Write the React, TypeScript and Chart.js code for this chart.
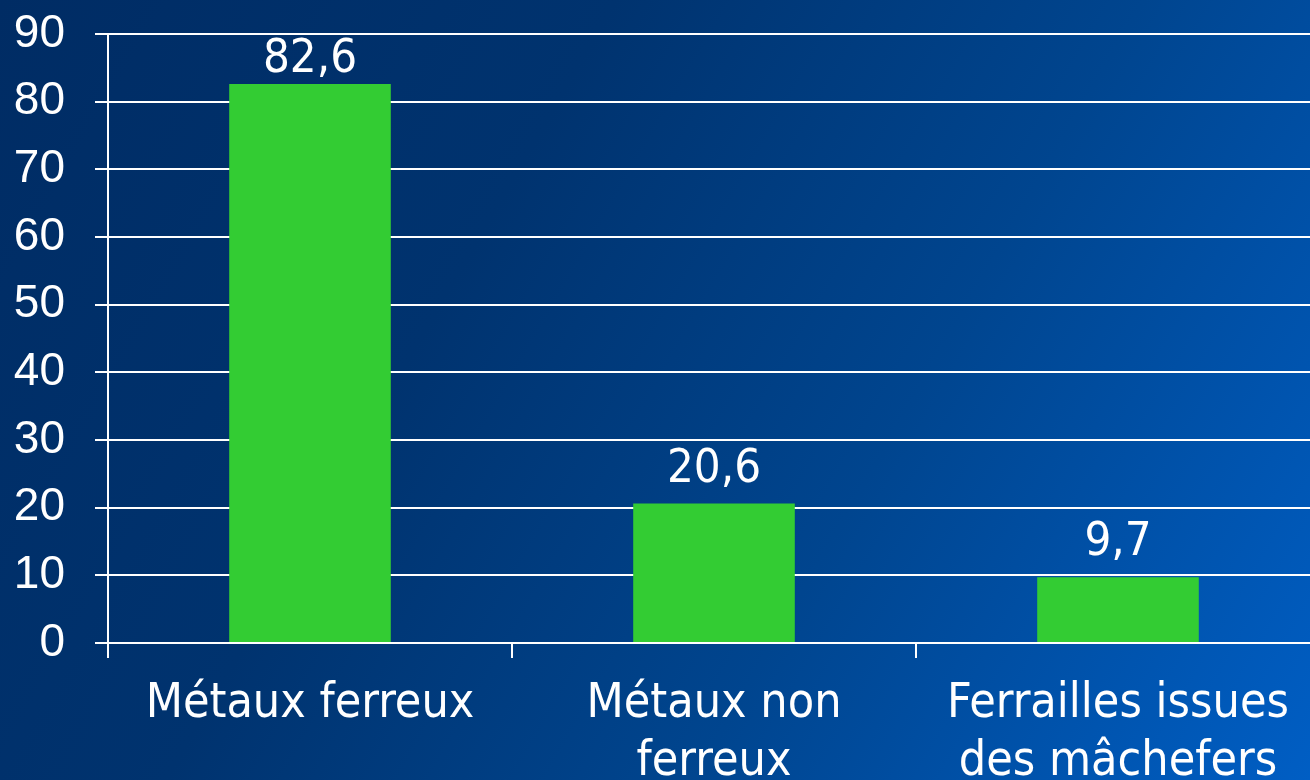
import React, { useEffect, useRef } from "react";
import { Chart, registerables } from "chart.js";

Chart.register(...registerables);

const categories: string[][] = [
  ["Métaux ferreux"],
  ["Métaux non", "ferreux"],
  ["Ferrailles issues", "des mâchefers"],
];
const values: number[] = [82.6, 20.6, 9.7];
const valueLabels: string[] = ["82,6", "20,6", "9,7"];
const yMin = 0;
const yMax = 90;
const yStep = 10;

const LABEL_FONT = "'DejaVu Sans Condensed', 'DejaVu Sans', sans-serif";
const TICK_FONT = "'Liberation Sans', Arial, sans-serif";

const valueLabelPlugin = {
  id: "valueLabels",
  afterDatasetsDraw(chart: any) {
    const ctx = chart.ctx;
    const meta = chart.getDatasetMeta(0);
    ctx.save();
    ctx.font = `47px ${LABEL_FONT}`;
    ctx.fillStyle = "#ffffff";
    ctx.textAlign = "center";
    ctx.textBaseline = "alphabetic";
    meta.data.forEach((bar: any, i: number) => {
      const y = Math.max(bar.y - 22, chart.chartArea.top + 38);
      ctx.fillText(valueLabels[i], bar.x, y);
    });
    ctx.restore();
  },
};

export default function App() {
  const canvasRef = useRef<HTMLCanvasElement | null>(null);

  useEffect(() => {
    if (!canvasRef.current) return;
    const chart = new Chart(canvasRef.current, {
      type: "bar",
      data: {
        labels: categories,
        datasets: [
          {
            data: values,
            backgroundColor: "#33cc33",
            borderWidth: 0,
            barPercentage: 0.4,
            categoryPercentage: 1,
          },
        ],
      },
      options: {
        responsive: false,
        animation: false,
        layout: { padding: { top: 34, right: 2, left: 0, bottom: 0 } },
        plugins: {
          legend: { display: false },
          tooltip: { enabled: false },
        },
        scales: {
          x: {
            offset: true,
            grid: {
              offset: true,
              drawOnChartArea: false,
              color: "#ffffff",
              lineWidth: 2,
              tickLength: 15,
            },
            border: { display: true, color: "#ffffff", width: 2 },
            ticks: {
              color: "#ffffff",
              font: { family: LABEL_FONT, size: 48, lineHeight: 1.2 },
              padding: 18,
              maxRotation: 0,
              autoSkip: false,
            },
            afterFit: (s: any) => {
              s.height = 137;
              s.paddingLeft = 0;
              s.paddingRight = 0;
            },
          },
          y: {
            min: yMin,
            max: yMax,
            ticks: {
              stepSize: yStep,
              color: "#ffffff",
              font: { family: TICK_FONT, size: 46 },
              padding: 30,
            },
            grid: {
              color: "#ffffff",
              lineWidth: 2,
              tickLength: 13,
            },
            border: { display: true, color: "#ffffff", width: 2 },
            afterFit: (s: any) => {
              s.width = 108;
              s.paddingTop = 0;
              s.paddingBottom = 0;
            },
          },
        },
      },
      plugins: [valueLabelPlugin],
    });
    return () => chart.destroy();
  }, []);

  return (
    <div
      style={{
        position: "fixed",
        left: 0,
        top: 0,
        width: 1310,
        height: 780,
        overflow: "hidden",
        background:
          "linear-gradient(120deg, #002c64 0%, #00336f 35%, #00458f 65%, #005ec4 100%)",
      }}
    >
      <canvas
        ref={canvasRef}
        width={1322}
        height={780}
        style={{ display: "block", width: 1322, height: 780 }}
      />
    </div>
  );
}
